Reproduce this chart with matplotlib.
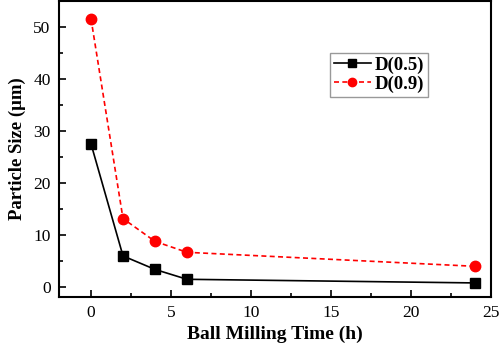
import matplotlib
matplotlib.use("Agg")
import matplotlib.pyplot as plt
from matplotlib.ticker import MultipleLocator

plt.rcParams['font.family'] = ['Liberation Serif', 'DejaVu Serif']
plt.rcParams['mathtext.fontset'] = 'stix'

time_h = [0, 2, 4, 6, 24]
d05 = [27.5, 5.9, 3.3, 1.4, 0.7]
d09 = [51.6, 13.1, 8.7, 6.6, 3.9]

fig = plt.figure(figsize=(5.0, 3.51), dpi=100)
ax = fig.add_axes([0.118, 0.154, 0.864, 0.843])

ax.plot(time_h, d05, color='black', linestyle='-', marker='s', markersize=6.5,
        linewidth=1.2, label='D(0.5)')
ax.plot(time_h, d09, color='red', linestyle='--', marker='o', markersize=7.5,
        linewidth=1.2, dashes=(3, 2), label='D(0.9)')

ax.set_xlim(-2, 25)
ax.set_ylim(-2, 55)
ax.xaxis.set_major_locator(MultipleLocator(5))
ax.xaxis.set_minor_locator(MultipleLocator(2.5))
ax.yaxis.set_major_locator(MultipleLocator(10))
ax.yaxis.set_minor_locator(MultipleLocator(5))
ax.tick_params(which='both', direction='in', labelsize=12.5, width=1.2)
ax.tick_params(which='major', length=5, pad=6)
ax.tick_params(which='minor', length=3)
for s in ax.spines.values():
    s.set_linewidth(1.5)

ax.set_xlabel('Ball Milling Time (h)', fontsize=14, fontweight='bold', labelpad=3)
ax.set_ylabel('Particle Size (μm)', fontsize=13.5, fontweight='bold', labelpad=5)

leg = ax.legend(loc='upper left', bbox_to_anchor=(0.627, 0.826),
                prop={'weight': 'bold', 'size': 13.5}, frameon=True, fancybox=False,
                edgecolor='gray', handlelength=2.0, handletextpad=0.2,
                borderpad=0.2, labelspacing=0.1, borderaxespad=0.0)
leg.get_frame().set_linewidth(1.0)
for h in leg.legend_handles:
    h.set_markersize(6)

fig.savefig('out.png', dpi=100)
